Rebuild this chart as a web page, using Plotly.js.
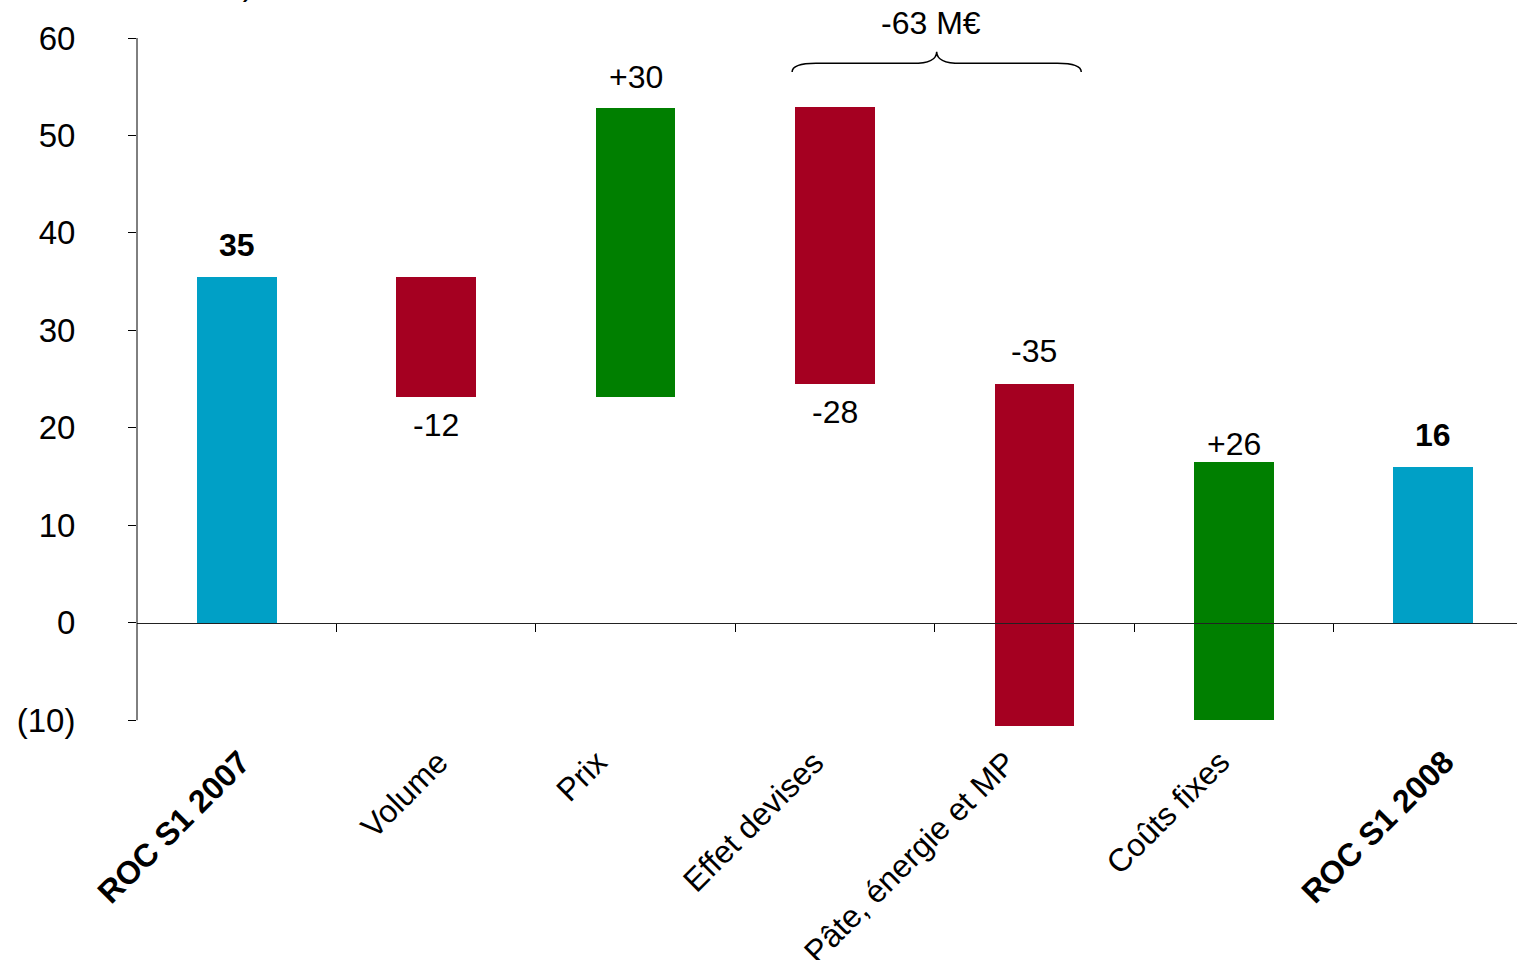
<!DOCTYPE html>
<html>
<head>
<meta charset="utf-8">
<script src="https://cdn.plot.ly/plotly-3.0.1.min.js"></script>
<style>html,body{margin:0;padding:0;background:#fff;}#chart{width:1517px;height:960px;}</style>
</head>
<body>
<div id="chart"></div>
<script>
// ---- data ----
const categories = ["ROC S1 2007", "Volume", "Prix", "Effet devises", "Pâte, énergie et MP", "Coûts fixes", "ROC S1 2008"];
const barStart = [0, 35.5, 23.2, 52.9, 24.5, -10.0, 0];
const barEnd   = [35.5, 23.2, 52.8, 24.5, -10.6, 16.5, 16.0];
const valueLabels = ["35", "-12", "+30", "-28", "-35", "+26", "16"];
const barKinds = ["total", "down", "up", "down", "down", "up", "total"];
const yTickVals = [-10, 0, 10, 20, 30, 40, 50, 60];
const yTickText = ["(10)", "0", "10", "20", "30", "40", "50", "60"];
const braceLabel = "-63 M€";
const unitLabel = "(en millions d’euros)";

// ---- styling ----
const colors = {total: "#00A0C6", down: "#A50021", up: "#007F00"};
const FONT = "Liberation Sans, Arial, sans-serif";
const FS = 32;
const idx = categories.map((c, i) => i);
const yMin = -10, yMax = 60;          // visible value axis
const yLow = -10.7;                    // plot floor (bars may dip slightly below the axis end)

const bars = {
  type: "bar",
  x: idx,
  base: barStart.map((s, i) => Math.min(s, barEnd[i])),
  y: barStart.map((s, i) => Math.abs(barEnd[i] - s)),
  width: 0.4,
  marker: {color: barKinds.map(k => colors[k]), line: {width: 0}},
  hoverinfo: "skip",
  showlegend: false
};
const dummyX2 = {type: "scatter", x: [null], y: [null], xaxis: "x2", yaxis: "y", showlegend: false, hoverinfo: "skip"};

// value label placement (px offsets), kept separately from data
const labelSide = ["above", "below", "above", "below", "above", "above", "above"];
const labelShift = [32, -28, 31, -28, 33, 18, 32];
const annotations = valueLabels.map((t, i) => {
  const top = Math.max(barStart[i], barEnd[i]);
  const bot = Math.min(barStart[i], barEnd[i]);
  return {
    x: i, y: labelSide[i] === "above" ? top : bot,
    xref: "x", yref: "y", text: barKinds[i] === "total" ? "<b>" + t + "</b>" : t,
    showarrow: false, yanchor: "middle", xanchor: "center", yshift: labelShift[i],
    font: {family: FONT, size: FS, color: "#000"}
  };
});

// rotated category labels under the plot (per-label horizontal offsets as in the original)
const catShift = [23, 22, -19, -1, -9, 6, 30];
categories.forEach((c, i) => {
  annotations.push({
    x: i, y: 0, xref: "x", yref: "paper",
    text: barKinds[i] === "total" ? "<b>" + c + "</b>" : c,
    textangle: -45, showarrow: false, xanchor: "right", yanchor: "top",
    xshift: catShift[i], yshift: -14,
    font: {family: FONT, size: 32, color: "#000"}
  });
});

// brace over "Effet devises" and "Pâte, énergie et MP"
const bx0 = 3 - 0.215, bx1 = 4 + 0.235, bxc = (bx0 + bx1) / 2;
const yEnd = 56.5, yMid = 57.4, yPeak = 58.6, d = 0.12;
const bracePath = `M ${bx0},${yEnd} Q ${bx0},${yMid} ${bx0 + d},${yMid} L ${bxc - d},${yMid} Q ${bxc},${yMid} ${bxc},${yPeak} Q ${bxc},${yMid} ${bxc + d},${yMid} L ${bx1 - d},${yMid} Q ${bx1},${yMid} ${bx1},${yEnd}`;
annotations.push({
  x: bxc, y: yPeak, xref: "x", yref: "y", text: braceLabel, showarrow: false,
  yanchor: "middle", xanchor: "center", yshift: 29, xshift: -6,
  font: {family: FONT, size: FS, color: "#000"}
});
annotations.push({
  x: 0.0855, y: 1, xref: "paper", yref: "paper", text: unitLabel, showarrow: false,
  xanchor: "right", yanchor: "bottom", yshift: 34,
  font: {family: FONT, size: FS, color: "#000"}
});

const layout = {
  width: 1517, height: 960,
  margin: {l: 137, r: 0, t: 38, b: 233},
  paper_bgcolor: "#fff", plot_bgcolor: "#fff",
  bargap: 0,
  font: {family: FONT, size: FS, color: "#000"},
  xaxis: {
    type: "linear", range: [-0.5, 6.42], tickvals: idx, showticklabels: false,
    ticks: "", showline: false, showgrid: false, zeroline: false, fixedrange: true
  },
  xaxis2: {
    type: "linear", overlaying: "x", anchor: "free", position: (0 - yLow) / (yMax - yLow),
    range: [-0.5, 6.42], tickvals: [0.5, 1.5, 2.5, 3.5, 4.5, 5.5], ticks: "outside", ticklen: 8,
    tickcolor: "#000", tickwidth: 1, showticklabels: false, showline: true, linecolor: "#222", linewidth: 1,
    showgrid: false, zeroline: false, side: "bottom"
  },
  yaxis: {
    range: [yLow, yMax], tickvals: yTickVals, ticktext: yTickText, ticks: "outside", ticklen: 8,
    tickcolor: "#000", showline: false, showgrid: false, zeroline: false,
    ticklabelstandoff: 46, tickfont: {family: FONT, size: 33, color: "#000"}
  },
  shapes: [
    {type: "path", path: bracePath, xref: "x", yref: "y", line: {color: "#000", width: 1.5}},
    // value-axis spine, from the lowest to the highest tick
    {type: "line", xref: "paper", yref: "y", x0: 0, x1: 0, y0: yMin, y1: yMax, line: {color: "#000", width: 1}}
  ],
  annotations: annotations,
  showlegend: false
};

Plotly.newPlot("chart", [bars, dummyX2], layout, {displayModeBar: false, staticPlot: true});
</script>
</body>
</html>
